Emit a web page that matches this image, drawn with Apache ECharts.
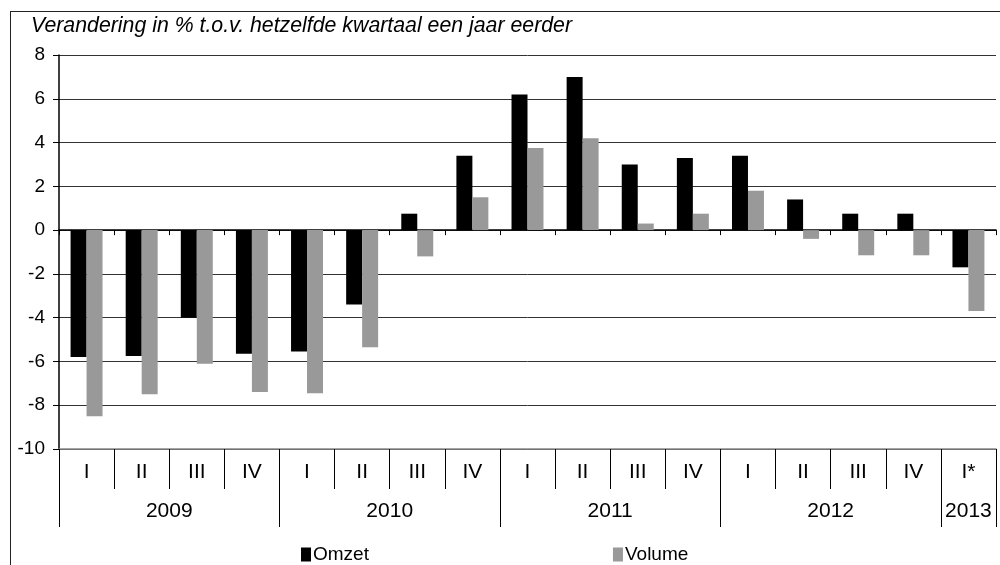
<!DOCTYPE html>
<html>
<head>
<meta charset="utf-8">
<script src="https://cdn.jsdelivr.net/npm/echarts@6/dist/echarts.min.js"></script>
<style>
html,body{margin:0;padding:0;background:#fff;}
#frame{position:absolute;left:10px;top:11px;width:1000px;height:600px;border:1.5px solid #222;box-sizing:border-box;}
#chart{position:absolute;left:0;top:0;width:1000px;height:565px;}
</style>
</head>
<body>
<div id="frame"></div>
<div id="chart"></div>
<script>
var quarters = ['I','II','III','IV','I','II','III','IV','I','II','III','IV','I','II','III','IV','I*'];
var years = ['2009','2010','2011','2012','2013'];
var quartersPerYear = [4,4,4,4,1];
var omzet  = [-5.8,-5.75,-4.0,-5.65,-5.55,-3.4,0.75,3.4,6.2,7.0,3.0,3.3,3.4,1.4,0.75,0.75,-1.7];
var volume = [-8.5,-7.5,-6.1,-7.4,-7.45,-5.35,-1.2,1.5,3.75,4.2,0.3,0.75,1.8,-0.4,-1.15,-1.15,-3.7];
var yTicks = [-10,-8,-6,-4,-2,0,2,4,6,8];
var axisTitle = 'Verandering in % t.o.v. hetzelfde kwartaal een jaar eerder';

var bounds = [0], centers = [];
quartersPerYear.forEach(function(n){
  var s = bounds[bounds.length-1];
  centers.push(s + n/2);
  bounds.push(s + n);
});

var font = '"Liberation Sans", Arial, sans-serif';
var chart = echarts.init(document.getElementById('chart'), null, {renderer:'canvas'});
chart.setOption({
  animation:false,
  backgroundColor:'transparent',
  textStyle:{fontFamily:font,color:'#000'},
  grid:{left:59,right:4,top:55,bottom:116,containLabel:false},
  graphic:[{type:'text',left:31,top:16,style:{text:axisTitle,font:'italic 21.3px '+font,fill:'#000'}}],
  legend:{
    data:['Omzet','Volume'],left:296,top:540,itemWidth:10,itemHeight:14,itemGap:244,
    icon:'rect',textStyle:{fontSize:19,color:'#000',fontFamily:font,padding:[0,0,0,-3]}
  },
  xAxis:[
    {type:'category',data:quarters,position:'bottom',
     axisLine:{onZero:true,lineStyle:{color:'#000',width:1.5}},
     axisTick:{show:true,interval:0,length:5,inside:false,lineStyle:{color:'#000'}},
     axisLabel:{show:false},splitLine:{show:false}},
    {type:'category',data:quarters,position:'bottom',
     axisLine:{onZero:false,lineStyle:{color:'#888',width:1.5}},
     axisTick:{show:true,interval:0,length:40,lineStyle:{color:'#000'}},
     axisLabel:{interval:0,margin:13,fontSize:21,color:'#000',fontFamily:font},splitLine:{show:false}},
    {type:'value',min:0,max:bounds[bounds.length-1],position:'bottom',
     axisLine:{show:false,onZero:false},
     axisTick:{show:true,customValues:bounds,length:78,lineStyle:{color:'#000'}},
     axisLabel:{customValues:centers,margin:52,fontSize:21,color:'#000',fontFamily:font,
       formatter:function(v){var i=centers.indexOf(v);return i>=0?years[i]:'';}},
     splitLine:{show:false}}
  ],
  yAxis:{type:'value',min:yTicks[0],max:yTicks[yTicks.length-1],interval:2,
    axisLine:{show:true,lineStyle:{color:'#000',width:1.5}},
    axisTick:{show:true,length:6,lineStyle:{color:'#000'}},
    axisLabel:{fontSize:19,color:'#000',margin:14,fontFamily:font},
    splitLine:{show:true,lineStyle:{color:'#333',width:1}}},
  series:[
    {name:'Omzet',type:'bar',xAxisIndex:0,data:omzet,itemStyle:{color:'#000'},barGap:'0%',barCategoryGap:'42%'},
    {name:'Volume',type:'bar',xAxisIndex:0,data:volume,itemStyle:{color:'#999'},barGap:'0%',barCategoryGap:'42%'}
  ]
});
</script>
</body>
</html>
